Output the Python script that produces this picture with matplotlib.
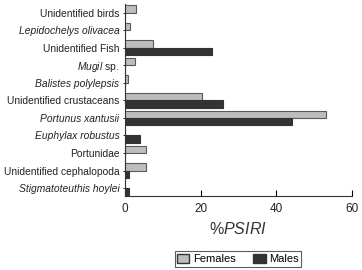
import numpy as np
import matplotlib
matplotlib.use('Agg')
import matplotlib.pyplot as plt
from matplotlib.patches import Patch

plt.rcParams['font.family'] = ['Liberation Sans Narrow', 'Liberation Sans', 'DejaVu Sans']
plt.rcParams['mathtext.fontset'] = 'custom'
plt.rcParams['mathtext.rm'] = 'Liberation Sans'
plt.rcParams['mathtext.it'] = 'Liberation Sans:italic'

# ======================================
# DATA (%PSIRI)
# ======================================
prey = ['Unidentified birds', 'Lepidochelys olivacea', 'Unidentified Fish',
        r'$\mathit{Mugil}$ sp.', 'Balistes polylepsis', 'Unidentified crustaceans',
        'Portunus xantusii', 'Euphylax robustus', 'Portunidae',
        'Unidentified cephalopoda', 'Stigmatoteuthis hoylei']
italic = [False, True, False, False, True, False, True, True, False, False, True]
females = [2.9, 1.4, 7.4, 2.8, 0.8, 20.3, 53.2, 0.0, 5.7, 5.5, 0.0]
males = [0.0, 0.0, 22.9, 0.0, 0.0, 25.9, 44.2, 4.1, 0.0, 1.1, 1.1]
xticks = [0, 20, 40, 60]

fem_color = '#bdbdbd'
male_color = '#333333'

fig = plt.figure(figsize=(3.62, 2.70), dpi=100)
ax = fig.add_axes([0.345, 0.274, 0.627, 0.713])

y = np.arange(len(prey))
h = 0.42
ax.barh(y - h / 2, females, height=h, color=fem_color, edgecolor='#5a5a5a', linewidth=0.8)
ax.barh(y + h / 2, males, height=h, color=male_color, edgecolor=male_color, linewidth=0.8)

ax.set_ylim(len(prey) - 1 + 0.45, -0.52)
ax.set_xlim(0, 60)
ax.set_xticks(xticks)
ax.set_yticks(y)
ax.set_yticklabels(prey, fontsize=7.4, color='#222222')
for lbl, it in zip(ax.get_yticklabels(), italic):
    if it:
        lbl.set_fontstyle('italic')

ax.tick_params(axis='x', direction='in', length=4, labelsize=8.5, pad=5, width=0.8,
               labelcolor='#222222')
ax.tick_params(axis='y', length=1.5, width=0.6, pad=2.5)
for s in ['top', 'right']:
    ax.spines[s].set_visible(False)
for s in ['left', 'bottom']:
    ax.spines[s].set_linewidth(0.8)
    ax.spines[s].set_color('#333333')

ax.set_xlabel(r'%$\mathit{PSIRI}$', fontsize=11.5, labelpad=4, color='#333333')

handles = [Patch(facecolor=fem_color, edgecolor='#333333', label='Females'),
           Patch(facecolor=male_color, edgecolor='#333333', label='Males')]
leg = fig.legend(handles=handles, loc='center', bbox_to_anchor=(0.657, 0.041), ncol=2,
                 fontsize=8, frameon=True, fancybox=False, edgecolor='#333333',
                 handlelength=1.1, handleheight=1.0, handletextpad=0.3, columnspacing=1.6,
                 borderpad=0.2, borderaxespad=0)
leg.get_frame().set_linewidth(0.8)

fig.savefig('out.png', dpi=100)
